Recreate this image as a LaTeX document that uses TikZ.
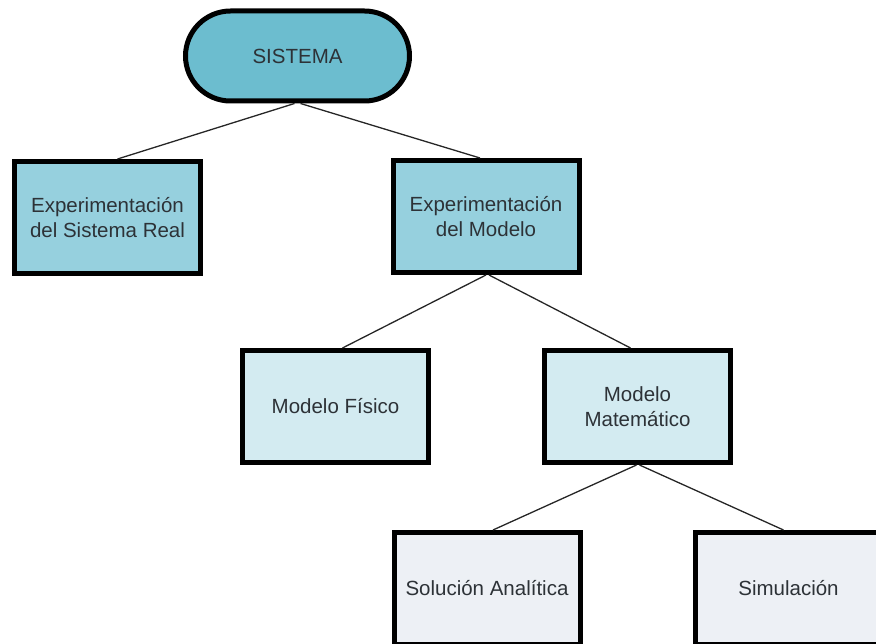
\documentclass[tikz,border=0pt]{standalone}
\usepackage{fontspec}
\setmainfont{Liberation Sans}
\usetikzlibrary{shapes.misc}
\definecolor{topfill}{RGB}{108,189,207}
\definecolor{midfill}{RGB}{150,208,222}
\definecolor{lowfill}{RGB}{211,235,241}
\definecolor{botfill}{RGB}{237,240,245}
\definecolor{txt}{RGB}{45,50,55}
\tikzset{
  box/.style={draw=black, line width=5pt, minimum width=186pt, minimum height=112pt,
    inner sep=0pt, align=center, text=txt, font=\fontsize{20.5}{25}\selectfont},
  topbox/.style={box, rounded rectangle, fill=topfill, minimum width=224pt, minimum height=90pt},
  link/.style={line width=1.3pt, draw=black!85}
}
\begin{document}
\begin{tikzpicture}[x=1pt,y=-1pt]
\useasboundingbox (0,0) rectangle (876,644);
\begin{scope}
\clip (0,0) rectangle (876,644);
\node[topbox] (sis) at (297.5,56) {SISTEMA};
\node[box, fill=midfill] (real) at (107.5,217.5) {Experimentación\\del Sistema Real};
\node[box, fill=midfill] (mod) at (486,216.5) {Experimentación\\del Modelo};
\node[box, fill=lowfill] (fis) at (335.5,406.5) {Modelo Físico};
\node[box, fill=lowfill] (mat) at (637.5,406.5) {Modelo\\Matemático};
\node[box, fill=botfill] (sol) at (487,588.5) {Solución Analítica};
\node[box, fill=botfill] (sim) at (788.5,588.5) {Simulación};
\begin{scope}[on background layer/.try]
\end{scope}
\end{scope}
\begin{scope}
\clip (0,0) rectangle (876,644);
\draw[link] ([xshift=-3pt]sis.south) -- ([xshift=10pt]real.north);
\draw[link] ([xshift=3pt]sis.south) -- ([xshift=-6pt]mod.north);
\draw[link] ([xshift=0pt]mod.south) -- ([xshift=7pt]fis.north);
\draw[link] ([xshift=3pt]mod.south) -- ([xshift=-7pt]mat.north);
\draw[link] ([xshift=-1pt]mat.south) -- ([xshift=6pt]sol.north);
\draw[link] ([xshift=2pt]mat.south) -- ([xshift=-5pt]sim.north);
\end{scope}
\end{tikzpicture}
\end{document}
